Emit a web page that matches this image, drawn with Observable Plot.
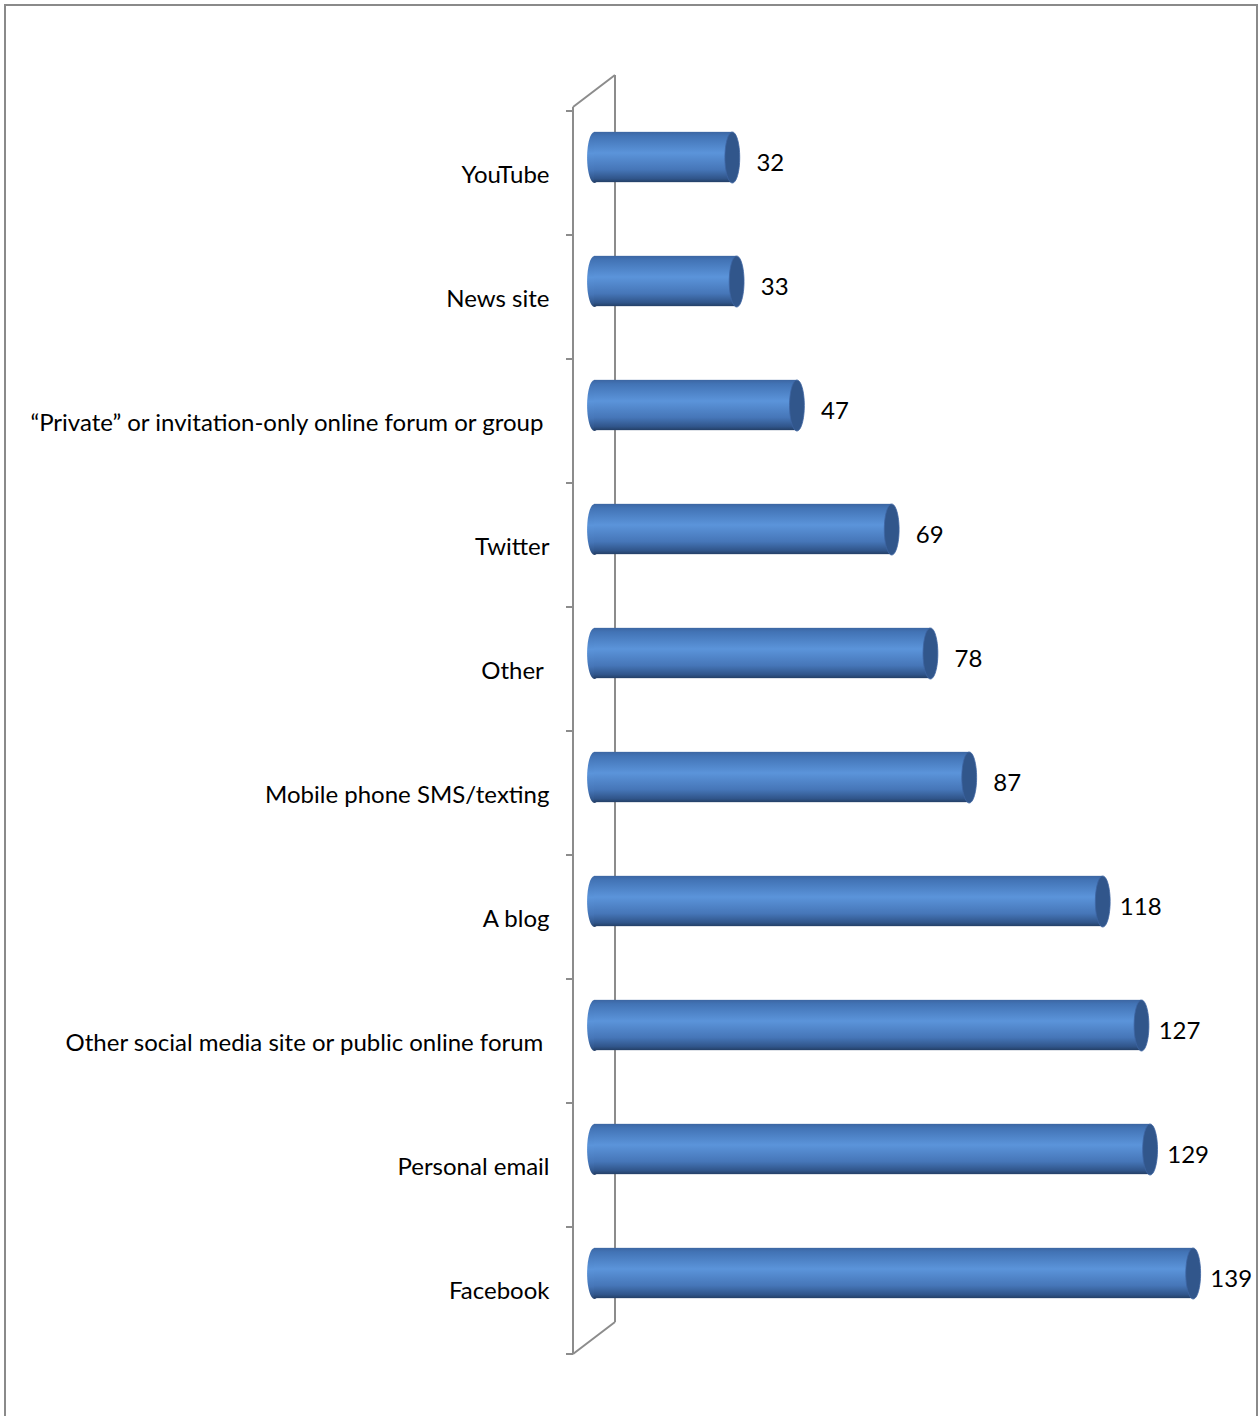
<!DOCTYPE html>
<html>
<head>
<meta charset="utf-8">
<script src="https://cdn.jsdelivr.net/npm/d3@7"></script>
<script src="https://cdn.jsdelivr.net/npm/@observablehq/plot@0.6"></script>
<style>
  html, body { margin: 0; padding: 0; background: #fff; overflow: hidden; }
  #wrap { position: relative; width: 1259px; height: 1416px; }
  #border { position: absolute; left: 4px; top: 4px; width: 1254px; height: 1440px; border: 2px solid #8a8a8a; box-sizing: border-box; pointer-events: none; }
  #chart { position: absolute; left: 0; top: 0; }
</style>
</head>
<body>
<div id="wrap"><div id="chart"></div><div id="border"></div></div>
<script>
const categories = [
  "YouTube",
  "News site",
  "\u201cPrivate\u201d or invitation-only online forum or group\u00a0",
  "Twitter",
  "Other\u00a0",
  "Mobile phone SMS/texting",
  "A blog",
  "Other social media site or public online forum\u00a0",
  "Personal email",
  "Facebook"
];
const values = [32, 33, 47, 69, 78, 87, 118, 127, 129, 139];

const data = categories.map((c, i) => ({category: c, value: values[i]}));

const W = 1259, H = 1416;
const mLeft = 594, mRight = 62, mTop = 107, mBottom = 62;
const step = (H - mTop - mBottom) / categories.length;
const barH = 51;
const inset = (step - barH) / 2;
const lift = -16;
const FONT = "Lato, 'Open Sans', sans-serif";
const FS = 24;

function ellipseSymbol(ratio) {
  return {
    draw(ctx, size) {
      const ry = Math.sqrt(size / Math.PI), rx = ry * ratio, k = 0.5522847498;
      ctx.moveTo(rx, 0);
      ctx.bezierCurveTo(rx, k * ry, k * rx, ry, 0, ry);
      ctx.bezierCurveTo(-k * rx, ry, -rx, k * ry, -rx, 0);
      ctx.bezierCurveTo(-rx, -k * ry, -k * rx, -ry, 0, -ry);
      ctx.bezierCurveTo(k * rx, -ry, rx, -k * ry, rx, 0);
      ctx.closePath();
    }
  };
}
const ell = ellipseSymbol(0.29);

const plot = Plot.plot({
  width: W,
  height: H,
  marginLeft: mLeft,
  marginRight: mRight,
  marginTop: mTop,
  marginBottom: mBottom,
  style: {fontFamily: FONT, fontSize: FS + "px", color: "#000", background: "transparent"},
  x: {domain: [0, 140], axis: null},
  y: {domain: categories, padding: 0, label: null},
  marks: [
    Plot.axisY({tickSize: 0, tickPadding: 45, fontSize: FS, fill: "#000", dy: 2}),
    Plot.dot(data, {x: () => 0, y: "category", r: barH / 2, symbol: ell, fill: "url(#cylGrad)", stroke: "none", dy: lift}),
    Plot.barX(data, {x1: () => 0, x2: "value", y: "category", insetTop: inset, insetBottom: inset, fill: "url(#cylGrad)", dy: lift}),
    Plot.dot(data, {x: "value", y: "category", r: barH / 2, symbol: ell, fill: "#31568b", stroke: "#3d64a2", strokeWidth: 0.8, dy: lift}),
    Plot.text(data, {x: "value", y: "category", text: d => String(d.value), dx: 38, dy: -10, textAnchor: "middle", fontSize: FS, fill: "#000"})
  ]
});

document.getElementById("chart").appendChild(plot);

// gradient for cylinder bodies
const svg = d3.select(plot);
const defs = svg.insert("defs", ":first-child");
const grad = defs.append("linearGradient").attr("id", "cylGrad").attr("x1", 0).attr("y1", 0).attr("x2", 0).attr("y2", 1);
[[0, "#3c66a2"], [0.08, "#4273b5"], [0.42, "#5b94da"], [0.75, "#4676b8"], [0.93, "#30558a"], [1, "#243f66"]]
  .forEach(([o, c]) => grad.append("stop").attr("offset", o).attr("stop-color", c));

// 3D wall drawn from the plot's own scales
const xs = plot.scale("x"), ys = plot.scale("y");
const x0 = xs.apply(0);
const depthX = 21, depthY = 32;
const wallTop = mTop, wallBottom = H - mBottom;
const wall = svg.append("g").attr("stroke", "#8c8c8c").attr("stroke-width", 2).attr("fill", "none");
const p = d3.path();
p.moveTo(x0 - depthX, wallTop); p.lineTo(x0 - depthX, wallBottom);
p.moveTo(x0 + depthX, wallTop - depthY); p.lineTo(x0 + depthX, wallBottom - depthY);
p.moveTo(x0 - depthX, wallTop); p.lineTo(x0 + depthX, wallTop - depthY);
p.moveTo(x0 - depthX, wallBottom); p.lineTo(x0 + depthX, wallBottom - depthY);
categories.forEach(c => { const yy = ys.apply(c); p.moveTo(x0 - depthX - 7, yy); p.lineTo(x0 - depthX, yy); });
p.moveTo(x0 - depthX - 7, wallBottom); p.lineTo(x0 - depthX, wallBottom);
wall.append("path").attr("d", p.toString());
svg.node().insertBefore(wall.node(), svg.node().querySelector("defs").nextSibling);
</script>
</body>
</html>
